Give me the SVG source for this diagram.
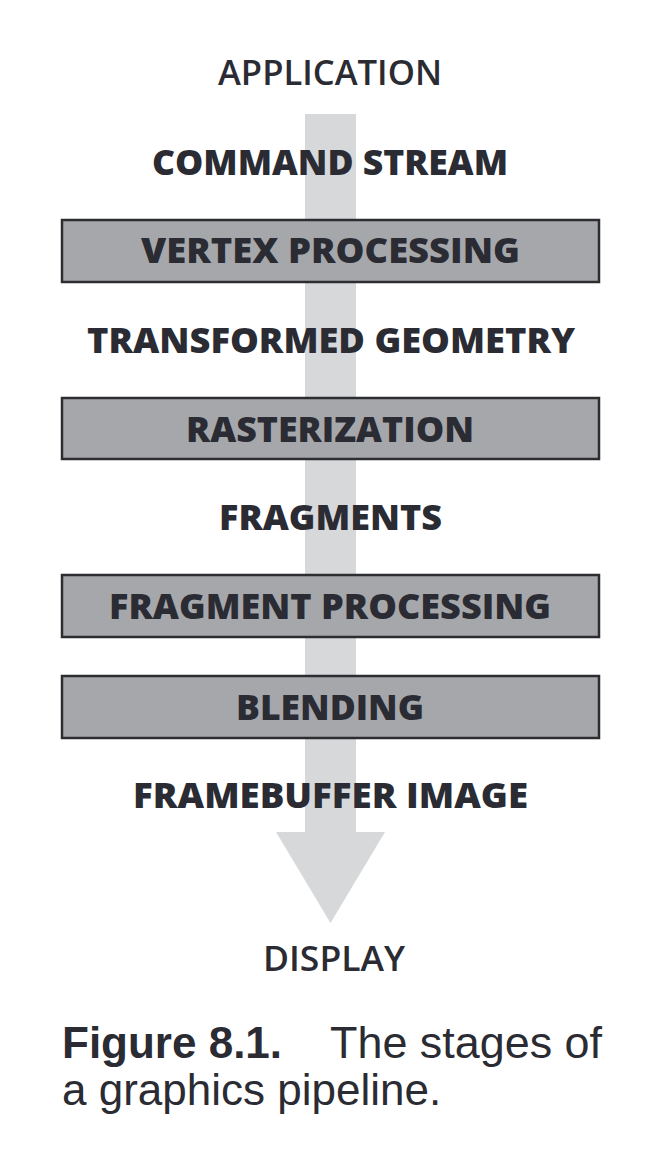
<svg xmlns="http://www.w3.org/2000/svg" width="666" height="1152" viewBox="0 0 666 1152">
<style>
.lbl{font-family:"Open Sans","Noto Sans","DejaVu Sans",sans-serif;font-weight:800;font-size:35px;fill:#2a2b33;text-anchor:middle}
.semi{font-weight:600}
.box{fill:#a6a7aa;stroke:#2c2d31;stroke-width:2.5}
.cap{font-family:"Liberation Sans",Arial,sans-serif;font-size:44px;fill:#2a2b33}
</style>
<rect width="666" height="1152" fill="#ffffff"/>
<g id="connectors">
<rect x="305" y="114" width="51" height="719" fill="#d7d8da"/>
<polygon points="276,832 385,832 330.5,923" fill="#d7d8da"/>
</g>
<g id="application"><text class="lbl semi" x="330" y="85" textLength="224" lengthAdjust="spacingAndGlyphs">APPLICATION</text></g>
<g id="command-stream"><text class="lbl" x="330" y="175" textLength="356" lengthAdjust="spacingAndGlyphs">COMMAND STREAM</text></g>
<g id="vertex-processing"><rect class="box" x="62" y="220" width="537" height="62"/><text class="lbl" x="330.5" y="263" textLength="379" lengthAdjust="spacingAndGlyphs">VERTEX PROCESSING</text></g>
<g id="transformed-geometry"><text class="lbl" x="331" y="353" textLength="488" lengthAdjust="spacingAndGlyphs">TRANSFORMED GEOMETRY</text></g>
<g id="rasterization"><rect class="box" x="62" y="398" width="537" height="61"/><text class="lbl" x="330" y="442" textLength="288" lengthAdjust="spacingAndGlyphs">RASTERIZATION</text></g>
<g id="fragments"><text class="lbl" x="330.5" y="530" textLength="223" lengthAdjust="spacingAndGlyphs">FRAGMENTS</text></g>
<g id="fragment-processing"><rect class="box" x="62" y="575" width="537" height="62"/><text class="lbl" x="330" y="619" textLength="442" lengthAdjust="spacingAndGlyphs">FRAGMENT PROCESSING</text></g>
<g id="blending"><rect class="box" x="62" y="676" width="537" height="62"/><text class="lbl" x="330" y="720" textLength="188" lengthAdjust="spacingAndGlyphs">BLENDING</text></g>
<g id="framebuffer-image"><text class="lbl" x="330.5" y="808" textLength="395" lengthAdjust="spacingAndGlyphs">FRAMEBUFFER IMAGE</text></g>
<g id="display"><text class="lbl semi" x="334" y="971" textLength="142" lengthAdjust="spacingAndGlyphs">DISPLAY</text></g>
<g id="caption">
<text class="cap" x="62" y="1058" font-weight="700">Figure 8.1.</text>
<text class="cap" x="330" y="1058" textLength="272" lengthAdjust="spacingAndGlyphs">The stages of</text>
<text class="cap" x="62" y="1105">a graphics pipeline.</text>
</g>
</svg>
